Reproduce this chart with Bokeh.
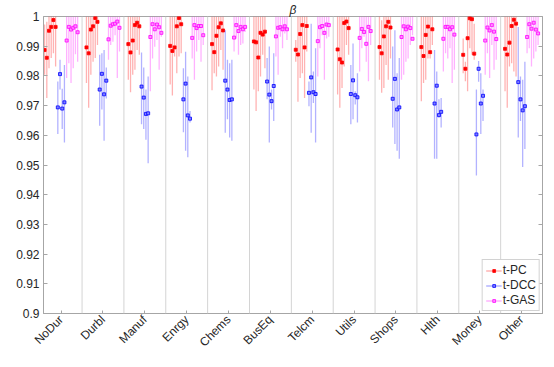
import numpy as np
from bokeh.plotting import figure
from bokeh.models import (Range1d, FixedTicker, CustomJSTickFormatter, LinearAxis,
                          Span, Legend, LegendItem, ColumnDataSource)
from bokeh.embed import file_html
from bokeh.resources import INLINE

industries = ["NoDur", "Durbl", "Manuf", "Enrgy", "Chems", "BusEq",
              "Telcm", "Utils", "Shops", "Hlth", "Money", "Other"]
series_names = ["t-PC", "t-DCC", "t-GAS"]

# t-PC (6 per industry): estimate, lower, upper
pc_est = [
    [0.9887, 0.9861, 0.9952, 0.9965, 0.9988, 0.9965],
    [0.9896, 0.9876, 0.9956, 0.9967, 0.9995, 0.9982],
    [0.9907, 0.9879, 0.9919, 0.9971, 0.9979, 0.9967],
    [0.9901, 0.9884, 0.9896, 0.9967, 0.9995, 0.9974],
    [0.9907, 0.9880, 0.9935, 0.9964, 0.9977, 0.9953],
    [0.9916, 0.9913, 0.9862, 0.9945, 0.9939, 0.9949],
    [0.9888, 0.9872, 0.9941, 0.9971, 0.9896, 0.9968],
    [0.9889, 0.9856, 0.9845, 0.9978, 0.9983, 0.9961],
    [0.9897, 0.9876, 0.9933, 0.9967, 0.9982, 0.9963],
    [0.9897, 0.9867, 0.9938, 0.9966, 0.9880, 0.9957],
    [0.9871, 0.9824, 0.9927, 0.9994, 0.9991, 0.9875],
    [0.9891, 0.9872, 0.9912, 0.9968, 0.9989, 0.9976],
]
pc_lo = [
    [0.9804, 0.9726, 0.9826, 0.9860, 0.9876, 0.9832],
    [0.9776, 0.9693, 0.9804, 0.9848, 0.9860, 0.9904],
    [0.9787, 0.9745, 0.9804, 0.9821, 0.9887, 0.9871],
    [0.9771, 0.9734, 0.9865, 0.9809, 0.9865, 0.9876],
    [0.9752, 0.9809, 0.9798, 0.9832, 0.9887, 0.9821],
    [0.9754, 0.9682, 0.9748, 0.9798, 0.9871, 0.9826],
    [0.9848, 0.9713, 0.9793, 0.9809, 0.9726, 0.9882],
    [0.9737, 0.9693, 0.9759, 0.9832, 0.9904, 0.9871],
    [0.9787, 0.9743, 0.9759, 0.9837, 0.9787, 0.9859],
    [0.9715, 0.9776, 0.9787, 0.9859, 0.9859, 0.9904],
    [0.9809, 0.9782, 0.9748, 0.9893, 0.9871, 0.9854],
    [0.9748, 0.9693, 0.9832, 0.9843, 0.9815, 0.9798],
]
pc_hi = [
    [0.9973, 0.9982, 1.0, 1.0, 1.0, 1.0],
    [1.0, 1.0, 1.0, 1.0, 1.0, 1.0],
    [1.0, 1.0, 1.0, 1.0, 1.0, 1.0],
    [1.0, 1.0, 1.0, 1.0, 1.0, 1.0],
    [1.0, 1.0, 1.0, 1.0, 1.0, 1.0],
    [1.0, 1.0, 1.0, 1.0, 1.0, 1.0],
    [0.9921, 1.0, 1.0, 1.0, 1.0, 1.0],
    [1.0, 1.0, 1.0, 1.0, 1.0, 1.0],
    [1.0, 0.9987, 1.0, 1.0, 1.0, 1.0],
    [1.0, 1.0, 1.0, 1.0, 1.0, 1.0],
    [0.9926, 0.9848, 1.0, 1.0, 1.0, 0.9976],
    [1.0, 1.0, 1.0, 1.0, 1.0, 1.0],
]

# t-DCC (4 per industry)
dcc_est = [
    [0.9694, 0.9806, 0.9690, 0.9711],
    [0.9754, 0.9807, 0.9738, 0.9784],
    [0.9764, 0.9727, 0.9672, 0.9674],
    [0.9721, 0.9774, 0.9667, 0.9656],
    [0.9784, 0.9754, 0.9719, 0.9721],
    [0.9781, 0.9737, 0.9715, 0.9766],
    [0.9743, 0.9795, 0.9745, 0.9739],
    [0.9739, 0.9785, 0.9735, 0.9728],
    [0.9723, 0.9790, 0.9687, 0.9694],
    [0.9707, 0.9767, 0.9668, 0.9679],
    [0.9603, 0.9824, 0.9707, 0.9733],
    [0.9779, 0.9721, 0.9684, 0.9698],
]
dcc_lo = [
    [0.9604, 0.9754, 0.9621, 0.9576],
    [0.9632, 0.9687, 0.9582, 0.9724],
    [0.9637, 0.9621, 0.9585, 0.9506],
    [0.9610, 0.9548, 0.9526, 0.9643],
    [0.9609, 0.9654, 0.9593, 0.9582],
    [0.9721, 0.9576, 0.9687, 0.9648],
    [0.9698, 0.9609, 0.9709, 0.9576],
    [0.9637, 0.9654, 0.9704, 0.9643],
    [0.9626, 0.9571, 0.9548, 0.9521],
    [0.9521, 0.9521, 0.9659, 0.9626],
    [0.9465, 0.9780, 0.9604, 0.9648],
    [0.9593, 0.9648, 0.9493, 0.9554],
]
dcc_hi = [
    [0.9781, 0.9854, 0.9757, 0.9837],
    [0.9871, 0.9876, 0.9887, 0.9828],
    [0.9879, 0.9828, 0.9754, 0.9798],
    [0.9826, 0.9881, 0.9798, 0.9682],
    [0.9954, 0.9854, 0.9843, 0.9854],
    [0.9860, 0.9899, 0.9754, 0.9876],
    [0.9781, 0.9976, 0.9815, 0.9893],
    [0.9837, 0.9909, 0.9748, 0.9809],
    [0.9899, 0.9954, 0.9809, 0.9860],
    [0.9887, 0.9815, 0.9721, 0.9726],
    [0.9754, 0.9850, 0.9809, 0.9754],
    [0.9965, 0.9798, 0.9787, 0.9848],
]

# t-GAS (6 per industry)
gas_est = [
    [0.9919, 0.9965, 0.9956, 0.9962, 0.9967, 0.9947],
    [0.9923, 0.9969, 0.9974, 0.9976, 0.9983, 0.9962],
    [0.9931, 0.9974, 0.9957, 0.9973, 0.9964, 0.9945],
    [0.9928, 0.9971, 0.9961, 0.9968, 0.9968, 0.9937],
    [0.9929, 0.9971, 0.9951, 0.9965, 0.9957, 0.9965],
    [0.9933, 0.9962, 0.9964, 0.9957, 0.9967, 0.9957],
    [0.9917, 0.9964, 0.9968, 0.9945, 0.9973, 0.9971],
    [0.9928, 0.9958, 0.9948, 0.9908, 0.9965, 0.9951],
    [0.9931, 0.9967, 0.9957, 0.9966, 0.9961, 0.9925],
    [0.9925, 0.9965, 0.9965, 0.9957, 0.9964, 0.9939],
    [0.9919, 0.9963, 0.9953, 0.9971, 0.9949, 0.9924],
    [0.9931, 0.9974, 0.9959, 0.9979, 0.9956, 0.9943],
]
gas_lo = [
    [0.9793, 0.9843, 0.9776, 0.9826, 0.9873, 0.9848],
    [0.9854, 0.9904, 0.9915, 0.9937, 0.9793, 0.9882],
    [0.9748, 0.9859, 0.9898, 0.9921, 0.9821, 0.9932],
    [0.9859, 0.9787, 0.9882, 0.9921, 0.9848, 0.9904],
    [0.9882, 0.9926, 0.9871, 0.9904, 0.9909, 0.9948],
    [0.9865, 0.9804, 0.9932, 0.9893, 0.9943, 0.9921],
    [0.9798, 0.9893, 0.9937, 0.9787, 0.9926, 0.9932],
    [0.9815, 0.9893, 0.9932, 0.9848, 0.9782, 0.9904],
    [0.9787, 0.9804, 0.9848, 0.9859, 0.9904, 0.9937],
    [0.9815, 0.9876, 0.9859, 0.9893, 0.9776, 0.9821],
    [0.9804, 0.9876, 0.9793, 0.9904, 0.9821, 0.9854],
    [0.9876, 0.9893, 0.9832, 0.9859, 0.9882, 0.9904],
]
gas_hi = [[1.0] * 6 for _ in range(12)]

yticks = [0.9, 0.91, 0.92, 0.93, 0.94, 0.95, 0.96, 0.97, 0.98, 0.99, 1.0]

FONT = "Liberation Sans"
TXT = "#262626"
AX = "#A6A6A6"

n_slots = 19
def build(est, lo, hi, first_slot):
    xs, e, l, h = [], [], [], []
    for g in range(len(industries)):
        for k in range(len(est[g])):
            xs.append((g + 1) + (first_slot + k - 7.5) / n_slots)
            e.append(est[g][k]); l.append(lo[g][k]); h.append(hi[g][k])
    return ColumnDataSource(dict(x=xs, est=e, lo=l, hi=h))

src_pc = build(pc_est, pc_lo, pc_hi, 0)
src_dcc = build(dcc_est, dcc_lo, dcc_hi, 6)
src_gas = build(gas_est, gas_lo, gas_hi, 10)

p = figure(width=554, height=367, output_backend="svg", toolbar_location=None,
           x_range=Range1d(1 - 8 / n_slots, 12.5), y_range=Range1d(0.9, 1.0),
           min_border_left=43, min_border_right=12, min_border_top=0,
           min_border_bottom=54, title="β")
p.title.align = "center"
p.title.text_font = FONT
p.title.text_font_style = "italic"
p.title.text_font_size = "12px"
p.title.text_color = TXT
p.title.standoff = 0
p.title.offset = 0
p.xgrid.visible = False
p.ygrid.visible = False
p.outline_line_color = AX
p.outline_line_width = 1
p.background_fill_color = "white"

for i in range(1, 12):
    p.add_layout(Span(location=i + 0.5, dimension="height",
                      line_color="#D4D4D4", line_width=1))

styles = [
    (src_pc, "#FF0000", "#FF0000"),
    (src_dcc, "#0000FF", "#8080FF"),
    (src_gas, "#FF00FF", "#FF90FF"),
]
items = []
for (src, col, fill), name in zip(styles, series_names):
    seg = p.segment(x0="x", y0="lo", x1="x", y1="hi", source=src,
                    line_color=col, line_alpha=0.3, line_width=1.3)
    sc = p.scatter(x="x", y="est", source=src, marker="square", size=3,
                   fill_color=fill, line_color=col, line_width=0.8)
    items.append(LegendItem(label=name, renderers=[seg, sc]))

# axes
xa = p.xaxis[0]
xa.ticker = FixedTicker(ticks=list(range(1, 13)))
xa.major_label_overrides = {i + 1: n for i, n in enumerate(industries)}
xa.major_label_orientation = np.pi / 4
xa.major_tick_in = 3
xa.major_tick_out = 0
xa.minor_tick_line_color = None
xa.axis_line_color = AX
xa.major_tick_line_color = AX
xa.major_label_text_font = FONT
xa.major_label_text_font_size = "12px"
xa.major_label_text_color = TXT
xa.major_label_standoff = 4

ya = p.yaxis[0]
ya.ticker = FixedTicker(ticks=yticks)
ya.formatter = CustomJSTickFormatter(code="return Number(tick.toFixed(2)).toString();")
ya.major_tick_in = 4
ya.major_tick_out = 0
ya.minor_tick_line_color = None
ya.axis_line_color = AX
ya.major_tick_line_color = AX
ya.major_label_text_font = FONT
ya.major_label_text_font_size = "12px"
ya.major_label_text_color = TXT
ya.major_label_standoff = 4

ra = LinearAxis(ticker=FixedTicker(ticks=yticks),
                formatter=CustomJSTickFormatter(code="return '';"))
ra.major_tick_in = 4
ra.major_tick_out = 0
ra.minor_tick_line_color = None
ra.axis_line_color = AX
ra.major_tick_line_color = AX
ra.major_label_standoff = 0
ra.major_label_text_font_size = "1px"
p.add_layout(ra, "right")

legend = Legend(items=items, location="bottom_right")
legend.label_text_font = FONT
legend.label_text_font_size = "12px"
legend.label_text_color = TXT
legend.label_height = 14
legend.glyph_height = 7
legend.glyph_width = 16
legend.label_standoff = 1
legend.spacing = 1
legend.padding = 3
legend.margin = 2
legend.border_line_color = AX
legend.background_fill_alpha = 1
p.add_layout(legend)

open("out.html", "w").write(file_html(p, INLINE))
